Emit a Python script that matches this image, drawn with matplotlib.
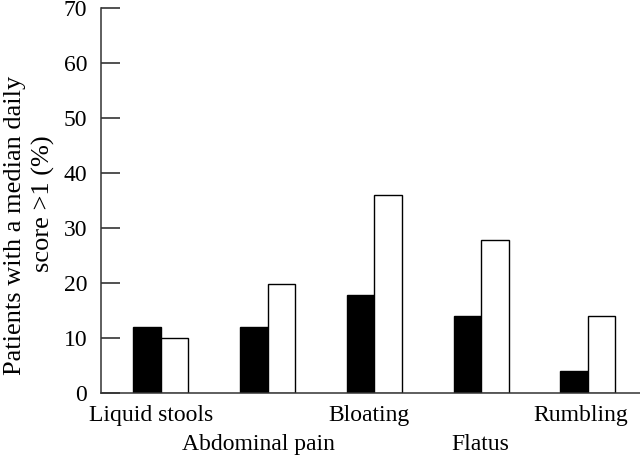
import numpy as np
import matplotlib
matplotlib.use("Agg")
import matplotlib.pyplot as plt
from matplotlib.transforms import blended_transform_factory

# data
categories = ["Liquid stools", "Abdominal pain", "Bloating", "Flatus", "Rumbling"]
black_vals = [12, 12, 17.8, 14, 4]
white_vals = [9.9, 19.8, 36, 27.7, 14]
# labels sit slightly left of the group centres, alternating two rows
label_shift = [-0.09, -0.09, -0.05, -0.01, -0.07]
label_row = [0, 1, 0, 1, 0]

plt.rcParams["font.family"] = ["Liberation Serif", "DejaVu Serif"]
plt.rcParams["font.size"] = 17

fig = plt.figure(figsize=(6.4, 4.62), dpi=100)
ax = fig.add_axes([101 / 640, 1 - 393 / 462, 1 - 101 / 640, (393 - 7.5) / 462])

x = np.arange(len(categories))
w = 0.258
ax.bar(x - w / 2, black_vals, w, color="black", edgecolor="black", linewidth=1)
ax.bar(x + w / 2, white_vals, w, color="white", edgecolor="black", linewidth=1)

ax.set_xlim(-0.562, 4.49)
ax.set_ylim(0, 70)
ax.set_yticks(range(0, 71, 10))
ax.tick_params(axis="y", direction="in", length=13.5, width=1.1, pad=10,
               labelsize=17, colors="#222222", labelcolor="black")
ax.set_xticks([])

for s in ["top", "right"]:
    ax.spines[s].set_visible(False)
for s in ["left", "bottom"]:
    ax.spines[s].set_linewidth(1.1)
    ax.spines[s].set_color("#333333")

# category labels in two staggered rows
trans = blended_transform_factory(ax.transData, fig.transFigure)
for i, name in enumerate(categories):
    base = 421 if label_row[i] == 0 else 450
    ax.text(i + label_shift[i], 1 - base / 462, name, transform=trans,
            ha="center", va="baseline", fontsize=17)

# y axis title, two lines
fig.text(15 / 640, 1 - 225 / 462, "Patients with a median daily",
         rotation=90, ha="center", va="center", fontsize=19)
fig.text(43 / 640, 1 - 204 / 462, "score >1 (%)",
         rotation=90, ha="center", va="center", fontsize=19)

fig.savefig("out.png", dpi=100)
